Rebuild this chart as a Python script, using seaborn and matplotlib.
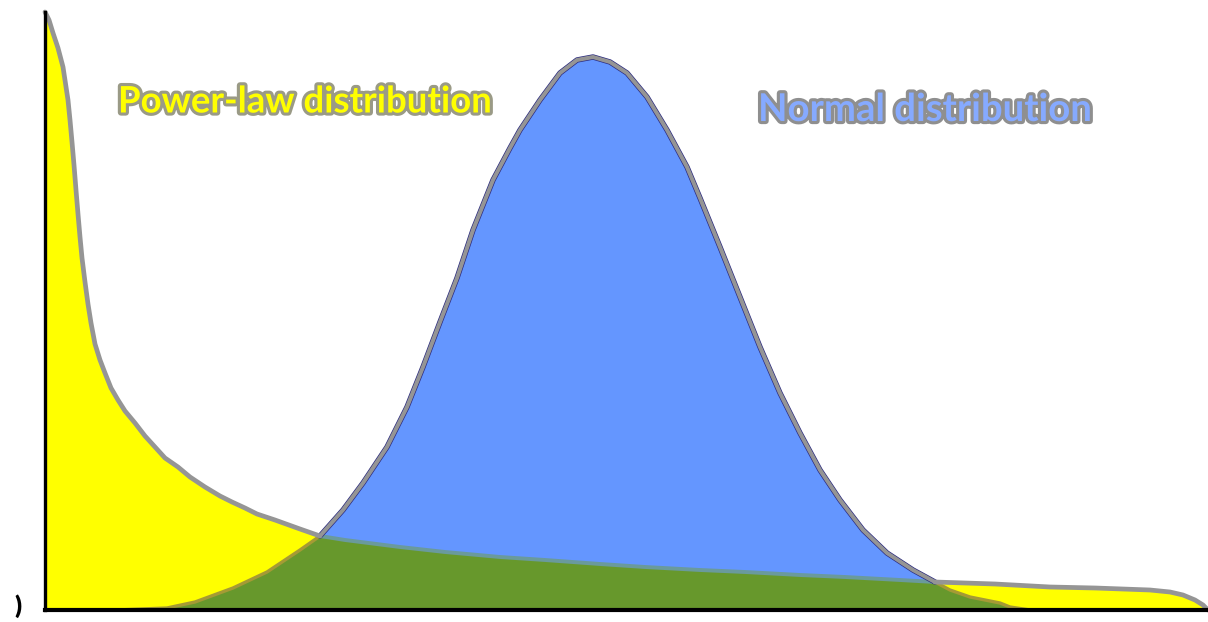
import matplotlib
matplotlib.use("Agg")
import matplotlib.pyplot as plt
import matplotlib.patheffects as pe
import seaborn as sns
import pandas as pd

# ---- data ----
pl_x = [0, 4, 8, 13, 18, 23, 25, 27, 29, 31, 33, 35, 37, 40, 43, 46, 50, 55, 60, 66, 73,
        80, 90, 100, 110, 120, 133, 145, 160, 175, 187, 200, 212, 230, 255, 275,
        300, 355, 400, 455, 500, 555, 600, 655, 700, 755, 800, 855, 890,
        950, 1005, 1050, 1105, 1125, 1138, 1150, 1158, 1163]
pl_y = [598, 590, 577, 562, 543, 510, 490, 468, 445, 420, 396, 373, 352, 328, 306, 287, 266,
        250, 237, 222, 210, 199, 187, 174, 163, 152, 143, 133, 123, 114, 108, 102, 96, 90, 81, 74,
        70, 63, 58, 53, 50, 46, 43, 40, 38, 35, 33, 30, 28,
        26, 23, 22, 20, 18, 15, 10, 5, 0]

n_x = [72, 122, 150, 188, 222, 255, 275, 298, 318, 342, 362, 378, 395, 412, 428, 448, 465,
       475, 495, 515, 532, 548, 565, 582, 602, 622, 642, 655, 675, 695, 715, 735, 755, 775,
       795, 818, 842, 868, 890, 905, 925, 955, 965, 985]
n_y = [0, 2, 8, 22, 38, 60, 74, 100, 127, 163, 203, 243, 288, 332, 380, 430, 462,
       480, 510, 537, 550, 553, 548, 537, 513, 480, 443, 412, 363, 313, 263, 217, 177, 140,
       110, 80, 57, 40, 28, 20, 13, 7, 3, 0]

labels = ["Power-law distribution", "Normal distribution"]

# ---- styling ----
sns.set_theme(style="white")
plt.rcParams['font.family'] = ['Lato', 'DejaVu Sans']

W, H = 1208, 622
fig = plt.figure(figsize=(W / 100, H / 100), dpi=100)
ax = fig.add_axes([45 / W, 12 / H, (W - 45) / W, 598 / H])
ax.set_xlim(0, 1163)
ax.set_ylim(0, 598)

pl = pd.DataFrame({"x": pl_x, "y": pl_y})
nd = pd.DataFrame({"x": n_x, "y": n_y})

YELLOW = "#ffff00"
BLUE = "#6496ff"
GREEN = "#67982c"
GRAY = "#959595"

# fills
poly_pl = ax.fill_between(pl["x"], 0, pl["y"], color=YELLOW, lw=0, zorder=1)
ax.fill_between(nd["x"], 0, nd["y"], color=BLUE, lw=0, zorder=2)
green = ax.fill_between(nd["x"], 0, nd["y"], color=GREEN, lw=0, zorder=3)
green.set_clip_path(poly_pl.get_paths()[0], ax.transData)

# split indices at the two crossing points
i_l_pl, i_r_pl = pl_x.index(275), pl_x.index(890)
i_l_n, i_r_n = n_x.index(275), n_x.index(890)

# power-law outline
for seg in (pl.iloc[:i_l_pl + 1], pl.iloc[i_r_pl:]):
    sns.lineplot(data=seg, x="x", y="y", ax=ax, color=GRAY, lw=3.4, estimator=None,
                 sort=False, zorder=6, clip_on=False, solid_capstyle="round",
                 solid_joinstyle="round")
sns.lineplot(data=pl.iloc[i_l_pl:i_r_pl + 1], x="x", y="y", ax=ax, color="#6a9a9c",
             lw=2.8, estimator=None, sort=False, zorder=4, solid_joinstyle="round")

# normal outline
mid = nd.iloc[i_l_n:i_r_n + 1]
sns.lineplot(data=mid, x="x", y="y", ax=ax, color="#2a2a80", lw=3.9, estimator=None,
             sort=False, zorder=5, solid_joinstyle="round")
sns.lineplot(data=mid, x="x", y="y", ax=ax, color=GRAY, lw=2.9, estimator=None,
             sort=False, zorder=5, solid_capstyle="round", solid_joinstyle="round")
for seg in (nd.iloc[:i_l_n + 1], nd.iloc[i_r_n:]):
    sns.lineplot(data=seg, x="x", y="y", ax=ax, color="#a59a35", lw=2.4, estimator=None,
                 sort=False, zorder=4, solid_joinstyle="round")

# labels
ax.text(118 - 45, 610 - 102, labels[0], color=YELLOW, fontsize=26.3, fontweight="bold",
        ha="left", va="center", zorder=8,
        path_effects=[pe.withStroke(linewidth=4.5, foreground="#9a9a86")])
ax.text(758 - 45, 610 - 110, labels[1], color="#86aaff", fontsize=27.6, fontweight="bold",
        ha="left", va="center", zorder=8,
        path_effects=[pe.withStroke(linewidth=4.5, foreground="#8f8f8f")])
ax.text(-27, 4, ")", color="black", fontsize=18, fontweight="heavy", ha="center",
        va="center", clip_on=False)

# axes
for s in ("top", "right"):
    ax.spines[s].set_visible(False)
ax.spines["left"].set_color("black")
ax.spines["left"].set_linewidth(2.4)
ax.spines["bottom"].set_color("black")
ax.spines["bottom"].set_linewidth(3.0)
ax.spines["left"].set_zorder(7)
ax.spines["bottom"].set_zorder(7)
ax.set_xticks([])
ax.set_yticks([])
ax.set_xlabel("")
ax.set_ylabel("")
ax.set_facecolor("white")
fig.patch.set_facecolor("white")

fig.savefig("out.png", dpi=100)
